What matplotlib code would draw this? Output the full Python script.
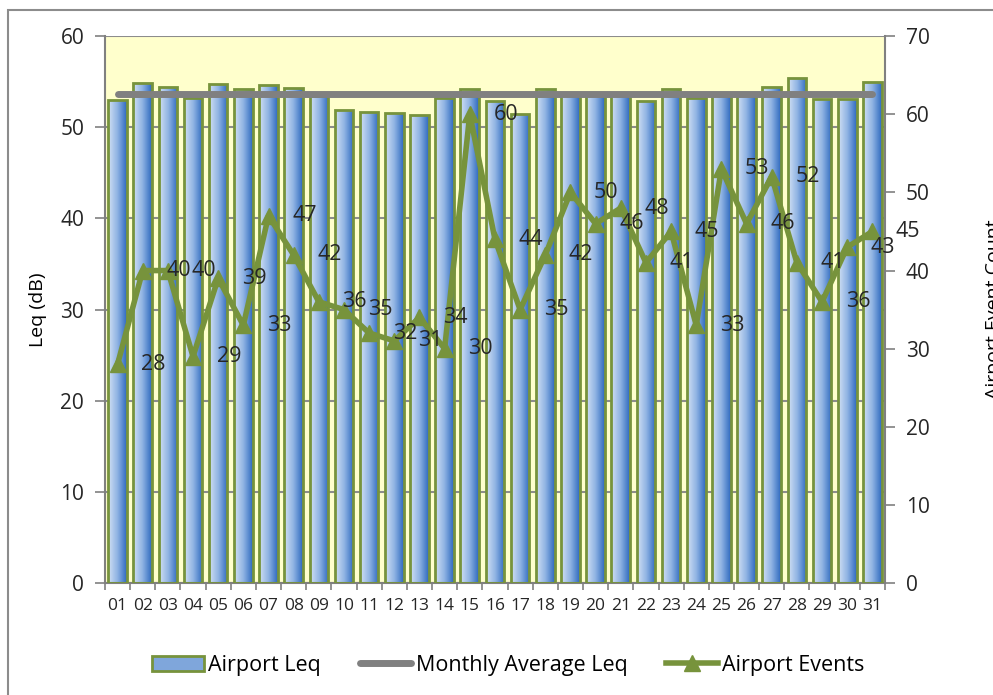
"""Daily airport noise (Leq) bars with event counts on a second axis."""

import matplotlib.pyplot as plt
import numpy as np
from matplotlib.colors import LinearSegmentedColormap
from matplotlib.lines import Line2D
from matplotlib.patches import Patch, Rectangle

DAYS = [f"{d:02d}" for d in range(1, 32)]
AIRPORT_LEQ = [53.0, 54.9, 54.4, 53.2, 54.7, 54.2, 54.6, 54.3, 53.4, 51.9,
               51.7, 51.6, 51.4, 53.2, 54.2, 52.9, 51.5, 54.2, 53.7, 53.6,
               53.6, 52.9, 54.2, 53.2, 53.5, 53.5, 54.4, 55.4, 53.1, 53.1,
               55.0]
MONTHLY_AVG_LEQ = 53.6
AIRPORT_EVENTS = [28, 40, 40, 29, 39, 33, 47, 42, 36, 35, 32, 31, 34, 30, 60,
                  44, 35, 42, 50, 46, 48, 41, 45, 33, 53, 46, 52, 41, 36, 43,
                  45]

GREEN = "#77933C"
GREY = "#808080"
TEXT = "#262626"

plt.rcParams["font.family"] = ["Open Sans", "DejaVu Sans"]

fig = plt.figure(figsize=(9.93, 6.95), dpi=100)
ax = fig.add_axes([0.1057, 0.161, 0.7855, 0.787])
ax.set_facecolor("#FFFFCC")

x = np.arange(len(DAYS))
bars = ax.bar(x, AIRPORT_LEQ, width=0.74, facecolor="none", edgecolor=GREEN,
              linewidth=2, zorder=3)

# horizontal gradient fill, light on the left, dark blue on the right
cmap = LinearSegmentedColormap.from_list("bar", ["#D2E1F4", "#8FB3E3", "#2E69BF"])
grad = np.linspace(0, 1, 64).reshape(1, -1)
for b in bars:
    im = ax.imshow(grad, cmap=cmap, aspect="auto", zorder=2,
                   extent=[b.get_x(), b.get_x() + b.get_width(), 0, b.get_height()])
    im.set_clip_path(b)

ax.plot([x[0], x[-1]], [MONTHLY_AVG_LEQ] * 2, color=GREY, lw=5,
        solid_capstyle="round", zorder=4)

ax.set_xlim(-0.5, len(DAYS) - 0.5)
ax.set_ylim(0, 60)
ax.set_yticks(range(0, 61, 10))
ax.yaxis.grid(True, color="#8C8C8C", lw=1.5, zorder=1)
ax.set_axisbelow(True)
ax.set_xticks(x)
ax.set_xticklabels(DAYS, fontsize=12.5, color=TEXT)
ax.set_xticks(np.arange(-0.5, len(DAYS)), minor=True)
ax.tick_params(axis="x", which="major", length=0, pad=11)
ax.tick_params(axis="x", which="minor", length=5, color=GREY, width=1.2)
ax.tick_params(axis="y", labelsize=15, labelcolor=TEXT, length=7, color=GREY,
               width=1.2, pad=8)
for side in ["top", "right"]:
    ax.spines[side].set_visible(False)
for side in ["left", "bottom"]:
    ax.spines[side].set_color(GREY)
    ax.spines[side].set_linewidth(1.5)
ax.set_ylabel("Leq (dB)", fontsize=14, color="black")
ax.yaxis.set_label_coords(-0.074, 0.5)

ax2 = ax.twinx()
ax2.plot(x, AIRPORT_EVENTS, color=GREEN, lw=4, marker="^", markersize=12,
         zorder=5)
for xi, v in zip(x, AIRPORT_EVENTS):
    ax2.annotate(str(v), (xi, v), xytext=(17, 0), textcoords="offset points",
                 ha="left", va="center", fontsize=15.5, color=TEXT,
                 annotation_clip=False, zorder=6)
ax2.set_ylim(0, 70)
ax2.set_yticks(range(0, 71, 10))
ax2.tick_params(axis="y", labelsize=15, labelcolor=TEXT, length=7, color=GREY,
                width=1.2, pad=8)
for side in ["top", "left", "bottom"]:
    ax2.spines[side].set_visible(False)
ax2.spines["right"].set_color(GREY)
ax2.spines["right"].set_linewidth(1.5)
ax2.set_ylabel("Airport Event Count", fontsize=14, color="black", rotation=90)
ax2.yaxis.set_label_coords(1.128, 0.5)

handles = [
    Patch(facecolor="#7FA6DB", edgecolor=GREEN, linewidth=2),
    Line2D([], [], color=GREY, lw=5, solid_capstyle="round"),
    Line2D([], [], color=GREEN, lw=4, marker="^", markersize=12),
]
fig.legend(handles, ["Airport Leq", "Monthly Average Leq", "Airport Events"],
           loc="center", bbox_to_anchor=(0.512, 0.043), ncol=3, frameon=False,
           fontsize=15.5, handlelength=2.4, handletextpad=0.2,
           columnspacing=1.8)

# outer chart border (runs off the right and bottom edges)
fig.add_artist(Rectangle((8 / 993, -0.05), 1.1, 1.05 - 10 / 695,
                         transform=fig.transFigure, fill=False,
                         edgecolor="#8C8C8C", lw=1.5))

fig.savefig("out.png", dpi=100)
